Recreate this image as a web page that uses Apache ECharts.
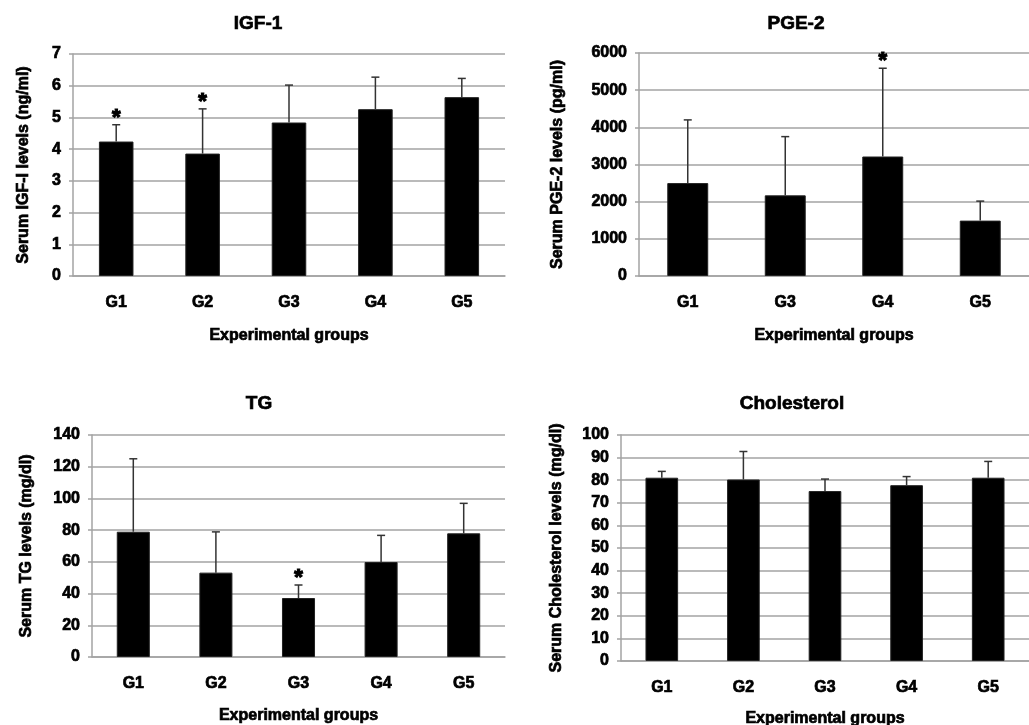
<!DOCTYPE html>
<html>
<head>
<meta charset="utf-8">
<script src="https://cdn.jsdelivr.net/npm/echarts@6/dist/echarts.min.js"></script>
<style>
html, body { margin: 0; padding: 0; background: #fff; }
#main { width: 1029px; height: 725px; }
</style>
</head>
<body>
<div id="main"></div>
<script>
// data
var igfGroups = ['G1', 'G2', 'G3', 'G4', 'G5'];
var igfMean = [4.24, 3.86, 4.84, 5.26, 5.64];
var igfSd = [0.53, 1.41, 1.18, 1.01, 0.59];
var igfStar = [1, 1, 0, 0, 0];

var pgeGroups = ['G1', 'G3', 'G4', 'G5'];
var pgeMean = [2500, 2170, 3215, 1490];
var pgeSd = [1700, 1580, 2375, 525];
var pgeStar = [0, 0, 1, 0];

var tgGroups = ['G1', 'G2', 'G3', 'G4', 'G5'];
var tgMean = [79, 53.2, 37.2, 59.9, 78];
var tgSd = [46, 25.7, 8.2, 16.8, 18.9];
var tgStar = [0, 0, 1, 0, 0];

var cholGroups = ['G1', 'G2', 'G3', 'G4', 'G5'];
var cholMean = [81.1, 80.3, 75.2, 77.8, 81.1];
var cholSd = [2.8, 12.4, 5.3, 3.8, 7.2];
var cholStar = [0, 0, 0, 0, 0];

var FONT = '"Liberation Sans", Arial, sans-serif';
var GRID_COLOR = '#a3a3a3';

// heavy bold look of the scanned figure
var boldText = function(size) {
	return {
		fontSize: size,
		fontWeight: 'bold',
		color: '#000',
		fontFamily: FONT,
		textBorderColor: '#000',
		textBorderWidth: 0.7
	};
};

var errData = function(mean, sd, star) {
	return mean.map(function(m, i) {
		return [i, m, m + sd[i], star[i]];
	});
};

var renderErr = function(params, api) {
	var base = api.coord([api.value(0), api.value(1)]);
	var top = api.coord([api.value(0), api.value(2)]);
	var x = base[0];
	var children = [{
		type: 'line',
		shape: { x1: x, y1: base[1], x2: x, y2: top[1] },
		style: { stroke: '#333', lineWidth: 1.5 }
	}, {
		type: 'line',
		shape: { x1: x - 4, y1: top[1], x2: x + 4, y2: top[1] },
		style: { stroke: '#333', lineWidth: 1.5 }
	}];
	if (api.value(3)) {
		children.push({
			type: 'text',
			x: x,
			y: top[1] - 7,
			style: {
				text: '*',
				font: 'bold 22px ' + FONT,
				fill: '#000',
				stroke: '#000',
				lineWidth: 1.2,
				align: 'center',
				verticalAlign: 'middle'
			}
		});
	}
	return { type: 'group', children: children };
};

var grids = [
	{ left: 73, top: 54, width: 432, height: 222 },
	{ left: 639, top: 53, width: 390, height: 223 },
	{ left: 92, top: 435, width: 413, height: 222 },
	{ left: 621, top: 435, width: 408, height: 226 }
];

var yNames = [
	'Serum IGF-I levels (ng/ml)',
	'Serum PGE-2 levels (pg/ml)',
	'Serum TG levels (mg/dl)',
	'Serum Cholesterol levels (mg/dl)'
];
var yMax = [7, 6000, 140, 100];
var yStep = [1, 1000, 20, 10];
var yNameGap = [41, 73, 57, 56];
var xNameGap = [52, 52, 51, 50];
var cats = [igfGroups, pgeGroups, tgGroups, cholGroups];
var means = [igfMean, pgeMean, tgMean, cholMean];
var sds = [igfSd, pgeSd, tgSd, cholSd];
var stars = [igfStar, pgeStar, tgStar, cholStar];
var barW = ['40%', '42%', '40%', '40%'];

var titles = [
	{ text: 'IGF-1', left: 258, top: 14 },
	{ text: 'PGE-2', left: 796, top: 14 },
	{ text: 'TG', left: 259, top: 394 },
	{ text: 'Cholesterol', left: 792, top: 394 }
];

var option = {
	backgroundColor: '#fff',
	animation: false,
	textStyle: { fontFamily: FONT },
	title: titles.map(function(t) {
		return {
			text: t.text,
			left: t.left,
			top: t.top,
			padding: 0,
			textAlign: 'center',
			textStyle: boldText(19)
		};
	}),
	grid: grids.map(function(g) {
		return { left: g.left, top: g.top, width: g.width, height: g.height, outerBoundsMode: 'none' };
	}),
	xAxis: cats.map(function(c, i) {
		return {
			type: 'category',
			gridIndex: i,
			data: c,
			name: 'Experimental groups',
			nameLocation: 'middle',
			nameGap: xNameGap[i],
			nameTextStyle: boldText(16),
			axisLine: { lineStyle: { color: GRID_COLOR, width: 1.5 } },
			axisTick: { length: 5, lineStyle: { color: GRID_COLOR, width: 1.5 } },
			axisLabel: Object.assign({ margin: 19 }, boldText(16))
		};
	}),
	yAxis: yMax.map(function(m, i) {
		return {
			type: 'value',
			gridIndex: i,
			min: 0,
			max: m,
			interval: yStep[i],
			name: yNames[i],
			nameLocation: 'middle',
			nameGap: yNameGap[i],
			nameTextStyle: boldText(16),
			axisLine: { show: true, lineStyle: { color: GRID_COLOR, width: 1.5 } },
			axisTick: { show: true, length: 4, lineStyle: { color: GRID_COLOR, width: 1.5 } },
			splitLine: { show: true, lineStyle: { color: GRID_COLOR, width: 1.5 } },
			axisLabel: Object.assign({
				margin: 12,
				formatter: function(v) { return String(v); }
			}, boldText(16))
		};
	}),
	series: []
};

for (var i = 0; i < 4; i++) {
	option.series.push({
		type: 'bar',
		xAxisIndex: i,
		yAxisIndex: i,
		barWidth: barW[i],
		itemStyle: { color: '#000', borderColor: '#222', borderWidth: 1 },
		data: means[i]
	});
	option.series.push({
		type: 'custom',
		xAxisIndex: i,
		yAxisIndex: i,
		renderItem: renderErr,
		z: 3,
		data: errData(means[i], sds[i], stars[i])
	});
}

var chart = echarts.init(document.getElementById('main'));
chart.setOption(option);
</script>
</body>
</html>
